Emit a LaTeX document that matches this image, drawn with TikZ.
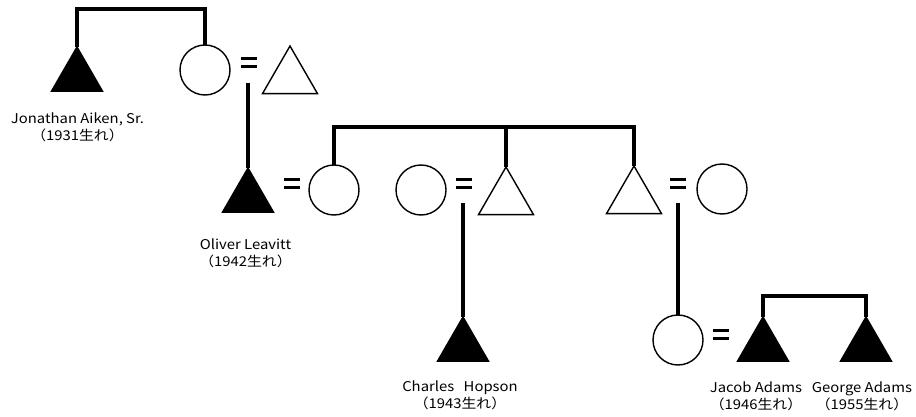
\documentclass[tikz,border=0pt]{standalone}
\usepackage{fontspec}
\setmainfont{Noto Sans CJK JP}
\newfontfamily\lblfont[FakeStretch=1.1]{Noto Sans CJK JP}
\usetikzlibrary{shapes.geometric}
\begin{document}
\begin{tikzpicture}[x=1pt,y=-1pt,
  person/.style={draw=black, line width=1.4pt, inner sep=0pt, outer sep=0pt},
  female/.style={person, circle, minimum size=50pt},
  maleopen/.style={person, regular polygon, regular polygon sides=3, minimum size=63.5pt},
  malefilled/.style={person, fill=black, regular polygon, regular polygon sides=3, minimum size=58.9pt},
  link/.style={line width=3.8pt, line cap=butt, line join=miter},
  eqbar/.style={line width=3pt},
  eqsign/.pic={\draw[eqbar] (-8,-4) -- (8,-4); \draw[eqbar] (-8,4) -- (8,4);},
  lbl/.style={font=\lblfont\fontsize{13.5}{17}\selectfont, align=center, inner sep=0pt}
]
\useasboundingbox (0,0) rectangle (916,417);

% persons
\node[malefilled] (J) at (77,76.45) {};
\node[female] (C1) at (205,70) {};
\node[maleopen] (T1) at (290,77.75) {};
\node[malefilled] (O) at (248,197.45) {};
\node[female] (C2) at (334,190) {};
\node[female] (C3) at (421,190) {};
\node[maleopen] (T2) at (506,198.75) {};
\node[maleopen] (T3) at (634,197.75) {};
\node[female] (C4) at (722,189) {};
\node[malefilled] (Ch) at (463,346.45) {};
\node[female] (C5) at (678,340) {};
\node[malefilled] (Ja) at (763,346.45) {};
\node[malefilled] (Ge) at (866,346.45) {};

% marriage signs
\pic at (249,63) {eqsign};
\pic at (292,184) {eqsign};
\pic at (464,184) {eqsign};
\pic at (678,184) {eqsign};
\pic at (721,334) {eqsign};

% sibling bars
\coordinate (bar1) at (141,9);
\draw[link] (J.north) |- (bar1) -| (C1.north);
\coordinate (bar2) at (480,127);
\draw[link] (C2.north) |- (bar2) -| (T3.north);
\draw[link] (T2.north) -- (T2.north |- bar2);
\coordinate (bar3) at (814,296);
\draw[link] (Ja.north) |- (bar3) -| (Ge.north);

% descent lines
\coordinate (d1) at (248,83);
\draw[link] (d1) -- (O.north);
\coordinate (d2) at (463,203);
\draw[link] (d2) -- (Ch.north);
\coordinate (d3) at (678,203);
\draw[link] (d3) -- (C5.north);

% labels
\node[lbl] (lJ) at (77.5,127) {Jonathan Aiken, Sr.\\（1931生れ）};
\node[lbl] (lO) at (245.5,253) {Oliver Leavitt\\（1942生れ）};
\node[lbl] (lC) at (460,395) {Charles\hspace{0.7em}Hopson\\（1943生れ）};
\node[lbl] (lJa) at (756,396) {Jacob Adams\\（1946生れ）};
\node[lbl] (lG) at (862,396) {George Adams\\（1955生れ）};
\end{tikzpicture}
\end{document}
